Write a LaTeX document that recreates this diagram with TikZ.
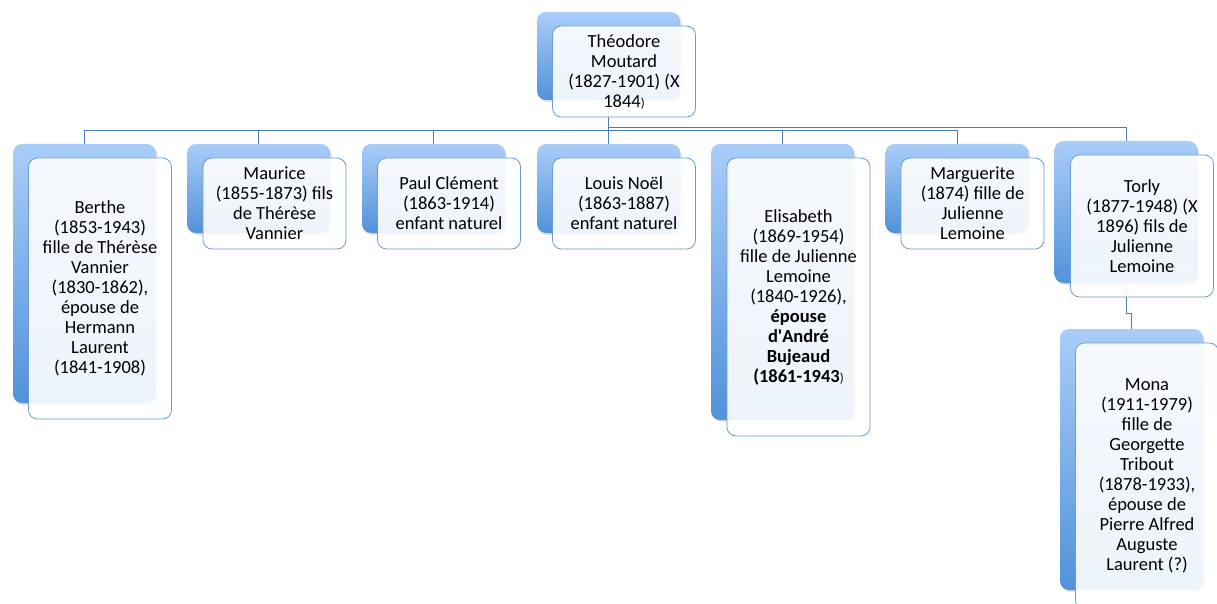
\documentclass[tikz,border=0pt]{standalone}
\usepackage{fontspec}
\setmainfont{Carlito}
\newfontfamily\straightfont{Carlito}
\usetikzlibrary{shadows,backgrounds}
\definecolor{boxtop}{HTML}{AACDF8}
\definecolor{boxbottom}{HTML}{5192DA}
\definecolor{boxline}{HTML}{6C9CD3}
\definecolor{linkline}{HTML}{4A7EBB}
\newcommand{\tinyparen}{{\fontsize{13}{20}\selectfont\mdseries )}}

\begin{document}
\begin{tikzpicture}[x=1pt,y=-1pt]
                \tikzstyle{back}=[rectangle, rounded corners=9pt, minimum width=143pt, top color=boxtop, bottom color=boxbottom, draw=none, drop shadow={shadow xshift=1.5pt, shadow yshift=-2pt, opacity=0.25}]
                \tikzstyle{front}=[rectangle, rounded corners=9pt, minimum width=143pt, draw=boxline, line width=0.8pt, fill=white, fill opacity=0.9, text opacity=1, align=center, inner sep=2pt, font=\fontsize{18.5}{20}\selectfont]
                \tikzstyle{link}=[draw=linkline, line width=0.9pt]
                \useasboundingbox (0,0) rectangle (1217,604);

                \node[back, minimum height=88pt] (bRoot) at (608.5,56) {};
                \node[front, minimum height=91pt] (Root) at (624,71.5) {Théodore\\Moutard\\(1827-1901) (X\\1844\tinyparen};

                \node[back, minimum height=259pt] (bBerthe) at (84.5,273.5) {};
                \node[front, minimum height=261pt] (Berthe) at (100,288.5) {Berthe\\(1853-1943)\\fille de Thérèse\\Vannier\\(1830-1862),\\épouse de\\Hermann\\Laurent\\(1841-1908)};

                \node[back, minimum height=89pt] (bMaurice) at (258.5,188.5) {};
                \node[front, minimum height=91pt] (Maurice) at (274.5,203.5) {Maurice\\(1855-1873) fils\\de Thérèse\\Vannier};

                \node[back, minimum height=89pt] (bPaul) at (433.5,188.5) {};
                \node[front, minimum height=91pt] (Paul) at (449,203.5) {Paul Clément\\(1863-1914)\\enfant naturel};

                \node[back, minimum height=89pt] (bLouis) at (608.5,188.5) {};
                \node[front, minimum height=91pt] (Louis) at (624,203.5) {Louis Noël\\(1863-1887)\\enfant naturel};

                \node[back, minimum height=276pt] (bElisabeth) at (782.5,282) {};
                \node[front, minimum height=278pt] (Elisabeth) at (798.5,297) {Elisabeth\\(1869-1954)\\fille de Julienne\\Lemoine\\(1840-1926),\\\textbf{épouse}\\\textbf{d{\straightfont\bfseries'}André}\\\textbf{Bujeaud}\\\textbf{(1861-1943}\tinyparen};

                \node[back, minimum height=89pt] (bMarguerite) at (957,188.5) {};
                \node[front, minimum height=91pt] (Marguerite) at (972.5,203.5) {Marguerite\\(1874) fille de\\Julienne\\Lemoine};

                \node[back, minimum height=142pt] (bTorly) at (1126,212) {};
                \node[front, minimum height=142pt] (Torly) at (1142,226) {Torly\\(1877-1948) (X\\1896) fils de\\Julienne\\Lemoine};

                \node[back, minimum height=261pt] (bMona) at (1131.5,459.5) {};
                \node[front, minimum height=266pt] (Mona) at (1147,476) {Mona\\(1911-1979)\\fille de\\Georgette\\Tribout\\(1878-1933),\\épouse de\\Pierre Alfred\\Auguste\\Laurent (?)};

                % connectors
                \begin{scope}[on background layer]
                \foreach \child in {Berthe,Maurice,Paul,Louis,Elisabeth,Marguerite}
                    \draw[link] (bRoot.south) -- ++(0,30) -| (b\child.north);
                \draw[link] (bRoot.south) -- ++(0,27) -| (bTorly.north);
                \draw[link] (bTorly.south) -- ++(0,30) -| (bMona.north);
                \end{scope}
\end{tikzpicture}
\end{document}
